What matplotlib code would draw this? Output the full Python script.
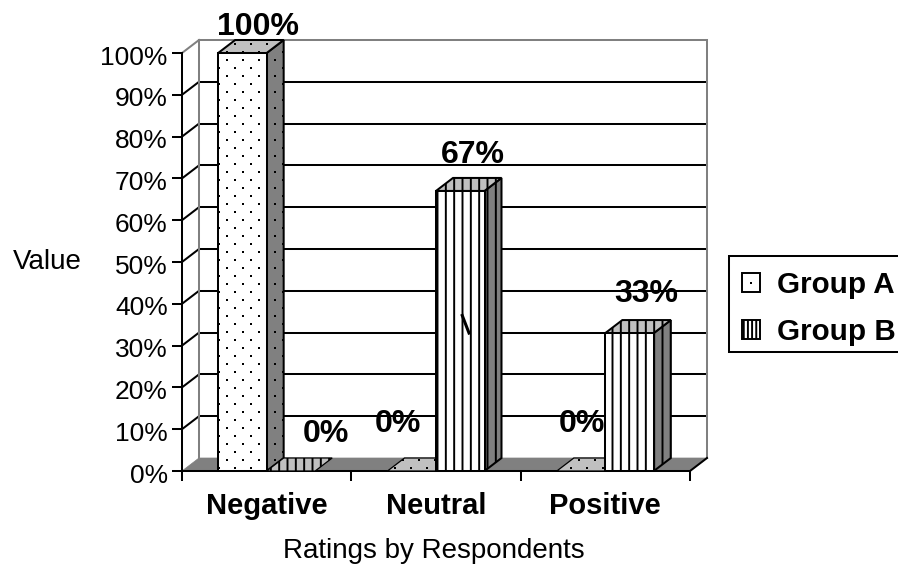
import numpy as np
import matplotlib
matplotlib.use('Agg')
import matplotlib.pyplot as plt
from matplotlib.patches import Polygon, Patch, Rectangle
from matplotlib.lines import Line2D
from matplotlib.transforms import ScaledTranslation

plt.rcParams['font.family'] = ['Liberation Sans', 'DejaVu Sans']
plt.rcParams['hatch.linewidth'] = 1.4

# values
categories = ['Negative', 'Neutral', 'Positive']
group_names = ['Group A', 'Group B']
group_a = [100, 0, 0]
group_b = [0, 67, 33]
y_ticks = list(range(0, 101, 10))

# hand placed value labels: x nudge in categories, lift in percent
nudge_a = [0.09, -0.082, 0.003]
nudge_b = [0.205, 0.077, 0.1]
lift_a = [4.2, 9.3, 9.3]
lift_b = [6.9, 6.7, 7.4]

W, H = 898, 566
fig = plt.figure(figsize=(W / 100, H / 100), dpi=100)
fig.patch.set_facecolor('white')

# plot box in pixels, the 3d walls stick out of it
L, R, T, B = 182, 690, 53, 471
ax = fig.add_axes([L / W, 1 - B / H, (R - L) / W, (B - T) / H])
ax.set_xlim(0, 3)
ax.set_ylim(0, 100)
ax.patch.set_alpha(0)

# depth of the fake 3d, in data units
DX = 17 / ((R - L) / 3)
DY = 13 / ((B - T) / 100)
LW = 1.45
GREY = '#808080'
LIGHT = '#c0c0c0'

# walls and floor
for v in y_ticks[1:]:
    c = GREY if v == 100 else 'black'
    ax.plot([DX, 3 + DX], [v + DY, v + DY], color=c, lw=LW, clip_on=False, zorder=1)
    ax.plot([0, DX], [v, v + DY], color=c, lw=LW, clip_on=False, zorder=1)
ax.plot([DX, DX], [DY, 100 + DY], color=GREY, lw=LW, clip_on=False, zorder=1)
ax.plot([3 + DX, 3 + DX], [DY, 100 + DY], color=GREY, lw=LW, clip_on=False, zorder=1)
ax.add_patch(Polygon([(0, 0), (DX, DY), (3 + DX, DY), (3, 0)], closed=True,
                     facecolor=GREY, edgecolor=GREY, lw=0.5, clip_on=False, zorder=1.5))
ax.plot([3, 3 + DX], [0, DY], color='black', lw=LW, clip_on=False, zorder=1.6)


def stipple(poly, z):
    # staggered dots clipped to a face, the '.' hatch is too regular for this
    verts = ax.transData.transform(poly.get_xy())
    x0, y0 = verts.min(axis=0)
    x1, y1 = verts.max(axis=0)
    xs, ys = [], []
    for row, py in enumerate(np.arange(np.floor(y0 / 8) * 8, y1 + 8, 8)):
        shift = 0 if row % 2 == 0 else 8
        for px in np.arange(np.floor(x0 / 16) * 16 + 3 + shift, x1 + 16, 16):
            xs.append(px)
            ys.append(py + 2)
    dots = Line2D(xs, ys, ls='none', marker='s', ms=1.5, color='black', mew=0,
                  transform=None, zorder=z)
    ax.add_line(dots)
    dots.set_clip_path(poly)


def bar3d(x0, x1, v, hatch, z):
    front = [(x0, 0), (x1, 0), (x1, v), (x0, v)]
    side = [(x1, 0), (x1 + DX, DY), (x1 + DX, v + DY), (x1, v)]
    top = [(x0, v), (x1, v), (x1 + DX, v + DY), (x0 + DX, v + DY)]
    for pts, col in ((side, GREY), (top, LIGHT), (front, 'white')):
        if v == 0 and col != LIGHT:
            continue
        lw = 0.9 if v == 0 else LW
        p = Polygon(pts, closed=True, facecolor=col, edgecolor='black', lw=lw,
                    hatch=hatch, clip_on=False, zorder=z)
        ax.add_patch(p)
        if hatch is None:
            stipple(p, z + 0.01)


# bars, a and b sit side by side in the middle of each category
bw = 48.5 / ((R - L) / 3)
for i in range(len(categories)):
    bar3d(i + 0.5 - bw, i + 0.5, group_a[i], None, 2 + i)
    bar3d(i + 0.5, i + 0.5 + bw, group_b[i], '||', 2.5 + i)

# stray stroke on the neutral bar
ax.plot([1.655, 1.695], [37.2, 33.0], color='black', lw=2.2, zorder=6)

# value labels
for i in range(len(categories)):
    ax.text(i + 0.5 - bw / 2 + nudge_a[i], group_a[i] + lift_a[i], f'{group_a[i]}%',
            ha='center', va='baseline', fontsize=23, fontweight='bold', zorder=8, clip_on=False)
    ax.text(i + 0.5 + bw / 2 + nudge_b[i], group_b[i] + lift_b[i], f'{group_b[i]}%',
            ha='center', va='baseline', fontsize=23, fontweight='bold', zorder=8, clip_on=False)

# axes
for s in ('top', 'right'):
    ax.spines[s].set_visible(False)
for s in ('left', 'bottom'):
    ax.spines[s].set_linewidth(LW)
    ax.spines[s].set_zorder(1.7)
ax.set_yticks(y_ticks)
ax.set_yticklabels([f'{v}%' for v in y_ticks], fontsize=19)
ax.set_xticks(range(4))
ax.set_xticklabels([])
ax.set_xticks([i + 0.5 for i in range(3)], minor=True)
ax.set_xticklabels(categories, minor=True, fontsize=21, fontweight='bold')
ax.tick_params(axis='both', which='major', length=7.2, width=LW, pad=3)
ax.tick_params(axis='x', which='minor', length=0, pad=15)

# tick labels sit a little under their ticks
down = ScaledTranslation(0, -1.5 / 72, fig.dpi_scale_trans)
for lab in ax.get_yticklabels():
    lab.set_transform(lab.get_transform() + down)

ax.set_xlabel('Ratings by Respondents', fontsize=20)
ax.xaxis.set_label_coords((434 - L) / (R - L), -(551 - B) / (B - T), transform=ax.transAxes)
ax.xaxis.label.set_va('center')
ax.set_ylabel('Value', fontsize=20, rotation=0, ha='center', va='center')
ax.yaxis.set_label_coords((47 - L) / (R - L), (B - 262) / (B - T), transform=ax.transAxes)

# legend box runs off the right edge
fig.add_artist(Rectangle((729 / W, 1 - 352 / H), 200 / W, 96 / H, transform=fig.transFigure,
                         facecolor='white', edgecolor='black', lw=LW, zorder=3))
handles = [Patch(facecolor='white', edgecolor='black', lw=1.4),
           Patch(facecolor='white', edgecolor='black', lw=1.4, hatch='||||')]
leg = fig.legend(handles, group_names, loc='upper left', bbox_to_anchor=(742 / W, 1 - 271 / H),
                 prop={'size': 21.3, 'weight': 'bold'}, frameon=False, handlelength=0.62,
                 handleheight=0.62, handletextpad=0.55, borderaxespad=0, borderpad=0,
                 labelspacing=0.63)
leg.set_zorder(4)

# single dot in the group a swatch
fig.canvas.draw()
box = leg.get_patches()[0].get_window_extent()
fig.add_artist(Line2D([(box.x0 + box.x1) / 2], [(box.y0 + box.y1) / 2], ls='none', marker='s',
                      ms=1.5, mew=0, color='black', transform=None, zorder=5))

fig.savefig('out.png', dpi=100)
